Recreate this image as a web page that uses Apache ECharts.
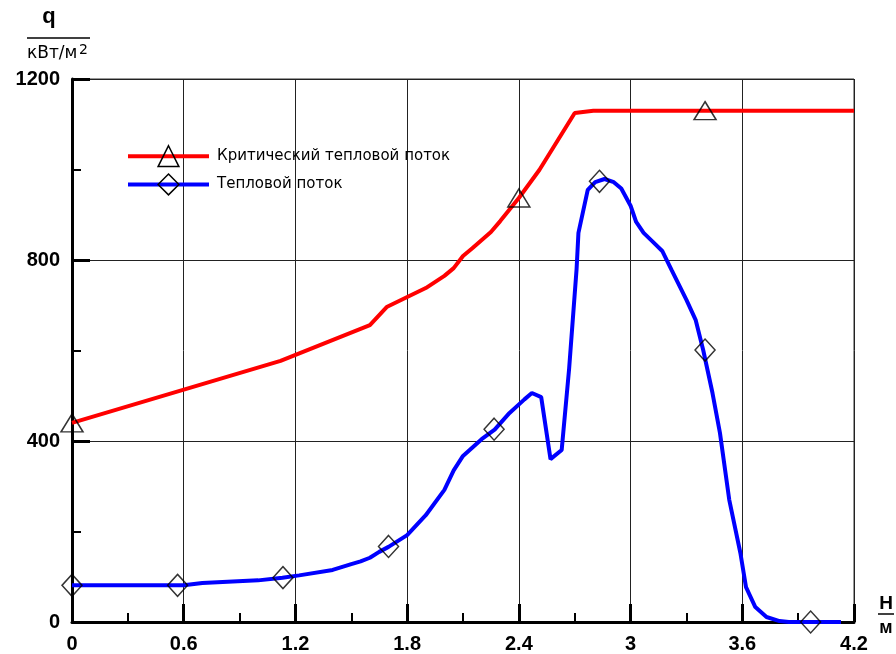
<!DOCTYPE html>
<html>
<head>
<meta charset="utf-8">
<script src="https://cdn.jsdelivr.net/npm/echarts@6/dist/echarts.min.js"></script>
<style>
html,body{margin:0;padding:0;background:#fff;}
#chart{width:896px;height:654px;}
</style>
</head>
<body>
<div id="chart"></div>
<script>
// Critical heat flux (red)
const critX = [0, 1.12, 1.6, 1.69, 1.9, 2.0, 2.05, 2.1, 2.15, 2.25, 2.3, 2.4, 2.51, 2.70, 2.80, 4.2];
const critY = [440, 577, 656, 696, 738, 765, 782, 809, 826, 862, 886, 937, 999, 1125, 1130, 1130];
const critMarkX = [0, 2.4, 3.4];
const critMarkY = [440, 937, 1130];

// Heat flux (blue)
const fluxX = [0, 0.6, 0.7, 1.0, 1.13, 1.22, 1.4, 1.5, 1.55, 1.6, 1.65, 1.7, 1.8, 1.9, 2.0, 2.05, 2.1, 2.2, 2.27, 2.35, 2.43, 2.47, 2.52, 2.57, 2.63, 2.67, 2.71, 2.72, 2.77, 2.81, 2.86, 2.91, 2.95, 3.0, 3.03, 3.07, 3.12, 3.17, 3.22, 3.30, 3.35, 3.39, 3.44, 3.48, 3.53, 3.59, 3.62, 3.67, 3.73, 3.8, 3.85, 4.13];
const fluxY = [81, 81, 86, 92, 98, 103, 115, 128, 134, 142, 155, 166, 192, 236, 292, 335, 367, 404, 425, 462, 492, 506, 497, 360, 380, 560, 780, 860, 955, 972, 979, 972, 958, 920, 884, 860, 840, 820, 778, 712, 667, 601, 506, 418, 270, 152, 77, 33, 11, 2, 0, 0];
const fluxMarkX = [0, 0.567, 1.133, 1.7, 2.267, 2.833, 3.4, 3.967];
const fluxMarkY = [81, 81, 98, 167, 426, 974, 601, 0];

const seriesNames = ['Критический тепловой поток', 'Тепловой поток'];
const xMin = 0, xMax = 4.2, xStep = 0.6;
const yMin = 0, yMax = 1200, yStep = 400;

const zip = (a, b) => a.map((v, i) => [v, b[i]]);

const chart = echarts.init(document.getElementById('chart'), null, {renderer: 'canvas'});
const numFont = {fontFamily: 'Liberation Sans', fontSize: 20, fontWeight: 'bold', color: '#000'};
const markerStyle = {color: 'rgba(0,0,0,0)', borderColor: '#000', borderWidth: 1.5};

function axisCommon(min, max, step) {
  return {
    type: 'value', min: min, max: max, interval: step,
    axisLine: {show: true, onZero: false, lineStyle: {color: '#000', width: 3}},
    axisTick: {show: true, inside: true, length: 18, lineStyle: {color: '#000', width: 3}},
    minorTick: {show: true, splitNumber: 2, length: 9, lineStyle: {color: '#000', width: 2}},
    splitLine: {show: true, lineStyle: {color: '#222', width: 1}},
    axisLabel: Object.assign({margin: 12, formatter: (v) => String(+v.toFixed(2))}, numFont)
  };
}

const option = {
  animation: false,
  backgroundColor: '#fff',
  grid: {left: 72, right: 42, top: 79, bottom: 32, show: true, borderColor: '#333', borderWidth: 1, backgroundColor: 'transparent'},
  xAxis: axisCommon(xMin, xMax, xStep),
  yAxis: axisCommon(yMin, yMax, yStep),
  legend: {
    orient: 'vertical', left: 126, top: 145, padding: 0,
    itemWidth: 81, itemHeight: 26, itemGap: 6,
    selectedMode: false,
    textStyle: {fontFamily: 'DejaVu Sans', fontSize: 15, color: '#000', padding: [0, 0, 0, 3]},
    data: [
      {name: seriesNames[0], itemStyle: markerStyle, lineStyle: {width: 4, color: '#ff0000'}},
      {name: seriesNames[1], itemStyle: markerStyle, lineStyle: {width: 4, color: '#0000ff'}}
    ]
  },
  series: [
    {
      name: seriesNames[0], type: 'line', data: zip(critX, critY),
      symbol: 'triangle', showSymbol: false, clip: false,
      lineStyle: {color: '#ff0000', width: 4}, itemStyle: {color: '#ff0000'}, z: 2
    },
    {
      name: seriesNames[1], type: 'line', data: zip(fluxX, fluxY),
      symbol: 'diamond', showSymbol: false, clip: false,
      lineStyle: {color: '#0000ff', width: 4}, itemStyle: {color: '#0000ff'}, z: 2
    },
    {
      name: 'crit-markers', type: 'scatter', data: zip(critMarkX, critMarkY),
      symbol: 'triangle', symbolSize: [22, 18], clip: false,
      itemStyle: markerStyle, z: 3
    },
    {
      name: 'flux-markers', type: 'scatter', data: zip(fluxMarkX, fluxMarkY),
      symbol: 'diamond', symbolSize: [20, 22], clip: false,
      itemStyle: markerStyle, z: 3
    }
  ],
  graphic: [
    {type: 'text', style: {text: 'q', x: 49, y: 17, align: 'center', verticalAlign: 'middle', font: 'bold 22px "Liberation Sans"', fill: '#000'}},
    {type: 'line', shape: {x1: 27, y1: 38, x2: 90, y2: 38}, style: {stroke: '#000', lineWidth: 1.5}},
    {type: 'text', style: {text: 'кВт/м', x: 27, y: 54, align: 'left', verticalAlign: 'middle', font: '17px "DejaVu Sans"', fill: '#000'}},
    {type: 'text', style: {text: '2', x: 79, y: 50, align: 'left', verticalAlign: 'middle', font: '14px "DejaVu Sans"', fill: '#000'}},
    {type: 'text', style: {text: 'H', x: 886, y: 604, align: 'center', verticalAlign: 'middle', font: 'bold 19px "Liberation Sans"', fill: '#000'}},
    {type: 'line', shape: {x1: 878, y1: 614, x2: 894, y2: 614}, style: {stroke: '#000', lineWidth: 1.5}},
    {type: 'text', style: {text: 'м', x: 886, y: 628, align: 'center', verticalAlign: 'middle', font: 'bold 18px "Liberation Sans"', fill: '#000'}}
  ]
};
chart.setOption(option);
</script>
</body>
</html>
